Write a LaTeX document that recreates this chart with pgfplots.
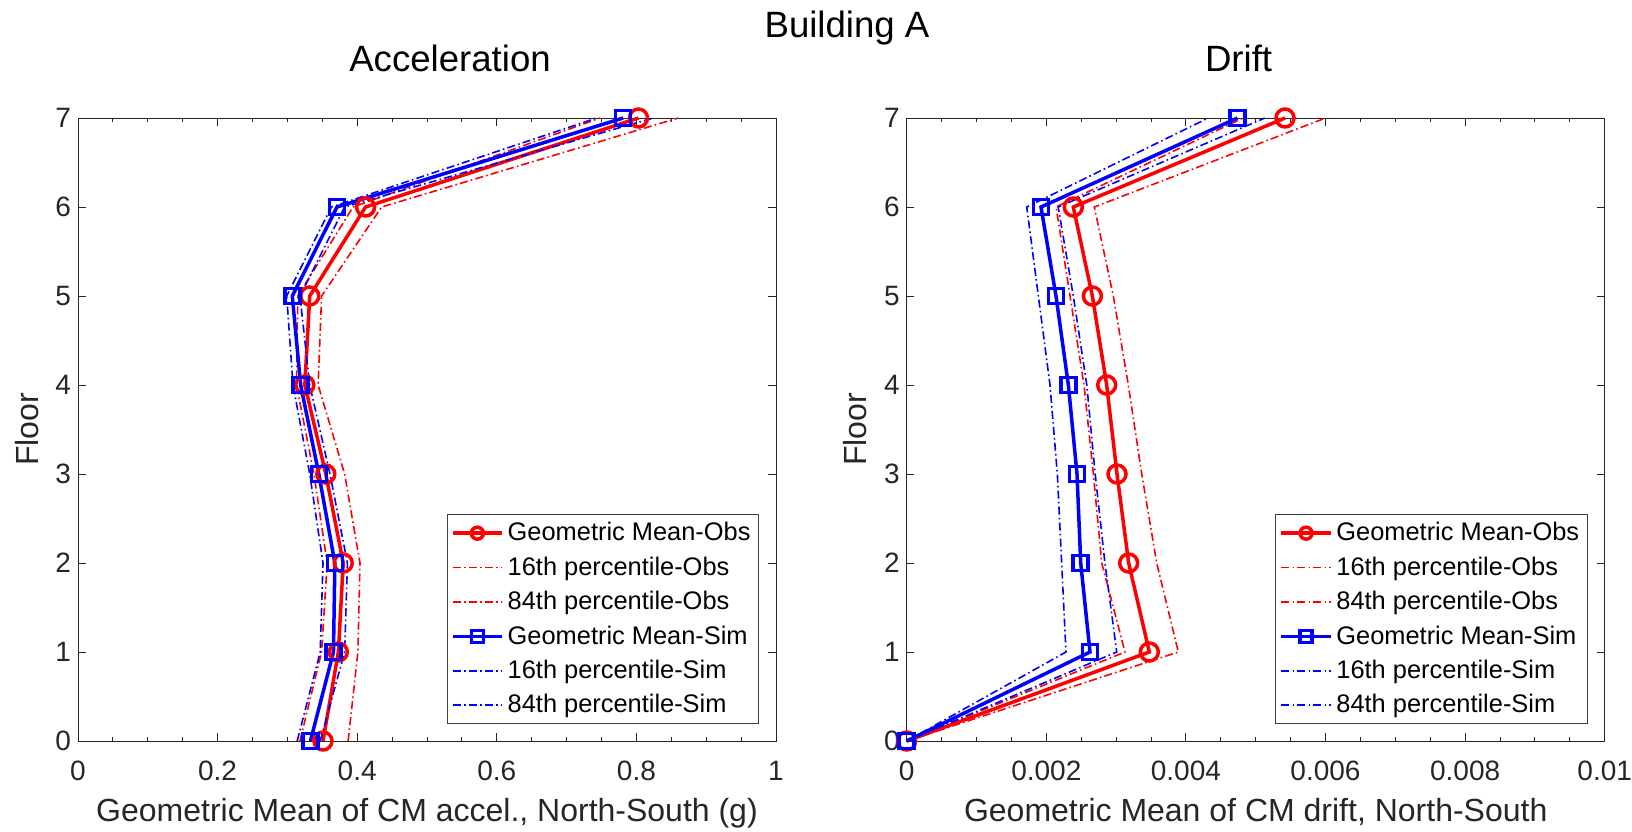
\documentclass[border=0pt]{standalone}
\usepackage{fontspec}
\setmainfont{Liberation Sans}
\usepackage{pgfplots}
\pgfplotsset{compat=1.18}
\definecolor{axgray}{gray}{0.15}

\pgfplotsset{
  panel/.style={
    scale only axis, width=349pt, height=311.5pt,
    ymin=0, ymax=7, ytick={0,1,2,3,4,5,6,7},
    minor x tick num=3,
    tick align=inside, major tick length=3.8pt, minor tick length=2pt,
    axis line style={axgray, line width=0.5pt},
    every tick/.style={axgray, line width=0.5pt},
    /pgf/number format/assume math mode=true,
    tick label style={font=\fontsize{14}{16}\selectfont, text=axgray},
    xticklabel style={anchor=base, yshift=-19.5pt},
    ylabel={Floor},
    ylabel style={at={(axis description cs:-0.0573,0.5)}, anchor=base,
      font=\fontsize{16}{19}\selectfont, text=axgray},
    xlabel style={at={(axis description cs:0.5,0)}, anchor=base, yshift=-40.3pt,
      font=\fontsize{16}{19}\selectfont, text=axgray},
    title style={anchor=base, font=\fontsize{18.3}{21}\selectfont},
    clip=false,
    legend style={at={(axis description cs:1,0)}, anchor=south east,
      xshift=-8.5pt, yshift=8.3pt, font=\fontsize{12.7}{14.5}\selectfont,
      draw=black!75, line width=0.5pt, inner xsep=2pt, inner ysep=2pt,
      row sep=2.5pt},
    legend cell align=left,
    legend image code/.code={
      \draw[mark repeat=2,mark phase=2,mark size=3pt]
        plot coordinates {(0pt,0pt) (12.3pt,0pt) (24.6pt,0pt)};},
  },
  gmo/.style={red, line width=1.75pt, mark=o, mark size=4.5pt, mark options={solid}},
  gms/.style={blue, line width=1.75pt, mark=square, mark size=3.75pt, mark options={solid}},
  pco/.style={red, line width=0.8pt, dash pattern=on 4pt off 1.6pt on 0.8pt off 1.6pt},
  pcs/.style={blue, line width=0.8pt, dash pattern=on 4pt off 1.6pt on 0.8pt off 1.6pt},
}

\begin{document}
\begin{tikzpicture}
\useasboundingbox (0,0) rectangle (816pt,415.5pt);

\node[anchor=base, font=\fontsize{18.3}{21}\selectfont] at (423.5pt,396.8pt) {Building A};

% left panel: acceleration
\begin{axis}[panel,
  at={(39pt,45pt)}, anchor=south west,
  xmin=0, xmax=1, xtick={0,0.2,0.4,0.6,0.8,1},
  xticklabels={0,0.2,0.4,0.6,0.8,1},
  title={Acceleration},
  title style={at={(axis description cs:0.533,1)}, yshift=17.5pt},
  xlabel={Geometric Mean of CM accel., North-South (g)},
]
\addplot[gmo] coordinates {(0.351,0) (0.373,1) (0.380,2) (0.355,3) (0.325,4) (0.332,5) (0.412,6) (0.803,7)};
\addlegendentry{Geometric Mean-Obs}
\addplot[pco] coordinates {(0.318,0) (0.349,1) (0.357,2) (0.338,3) (0.313,4) (0.315,5) (0.394,6) (0.748,7)};
\addlegendentry{16th percentile-Obs}
\addplot[pco] coordinates {(0.387,0) (0.401,1) (0.404,2) (0.382,3) (0.344,4) (0.349,5) (0.435,6) (0.860,7)};
\addlegendentry{84th percentile-Obs}
\addplot[gms] coordinates {(0.333,0) (0.366,1) (0.368,2) (0.345,3) (0.319,4) (0.307,5) (0.371,6) (0.781,7)};
\addlegendentry{Geometric Mean-Sim}
\addplot[pcs] coordinates {(0.314,0) (0.347,1) (0.351,2) (0.332,3) (0.308,4) (0.299,5) (0.363,6) (0.743,7)};
\addlegendentry{16th percentile-Sim}
\addplot[pcs] coordinates {(0.347,0) (0.382,1) (0.386,2) (0.361,3) (0.332,4) (0.318,5) (0.382,6) (0.824,7)};
\addlegendentry{84th percentile-Sim}
\end{axis}

% right panel: drift
\begin{axis}[panel,
  at={(453.35pt,45pt)}, anchor=south west,
  xmin=0, xmax=0.01, xtick={0,0.002,0.004,0.006,0.008,0.01},
  xticklabels={0,0.002,0.004,0.006,0.008,0.01},
  scaled x ticks=false,
  title={Drift},
  title style={at={(axis description cs:0.4755,1)}, yshift=17.5pt},
  xlabel={Geometric Mean of CM drift, North-South},
]
\addplot[gmo] coordinates {(0,0) (0.003476,1) (0.003180,2) (0.003013,3) (0.002865,4) (0.002660,5) (0.002387,6) (0.005420,7)};
\addlegendentry{Geometric Mean-Obs}
\addplot[pco] coordinates {(0,0) (0.003127,1) (0.002794,2) (0.002674,3) (0.002540,4) (0.002340,5) (0.002140,6) (0.004820,7)};
\addlegendentry{16th percentile-Obs}
\addplot[pco] coordinates {(0,0) (0.003891,1) (0.003582,2) (0.003367,3) (0.003175,4) (0.002960,5) (0.002688,6) (0.006000,7)};
\addlegendentry{84th percentile-Obs}
\addplot[gms] coordinates {(0,0) (0.002626,1) (0.002493,2) (0.002440,3) (0.002316,4) (0.002139,5) (0.001924,6) (0.004740,7)};
\addlegendentry{Geometric Mean-Sim}
\addplot[pcs] coordinates {(0,0) (0.002282,1) (0.002220,2) (0.002158,3) (0.002053,4) (0.001886,5) (0.001720,6) (0.004320,7)};
\addlegendentry{16th percentile-Sim}
\addplot[pcs] coordinates {(0,0) (0.003009,1) (0.002840,2) (0.002700,3) (0.002580,4) (0.002387,5) (0.002170,6) (0.005130,7)};
\addlegendentry{84th percentile-Sim}
\end{axis}
\end{tikzpicture}
\end{document}
